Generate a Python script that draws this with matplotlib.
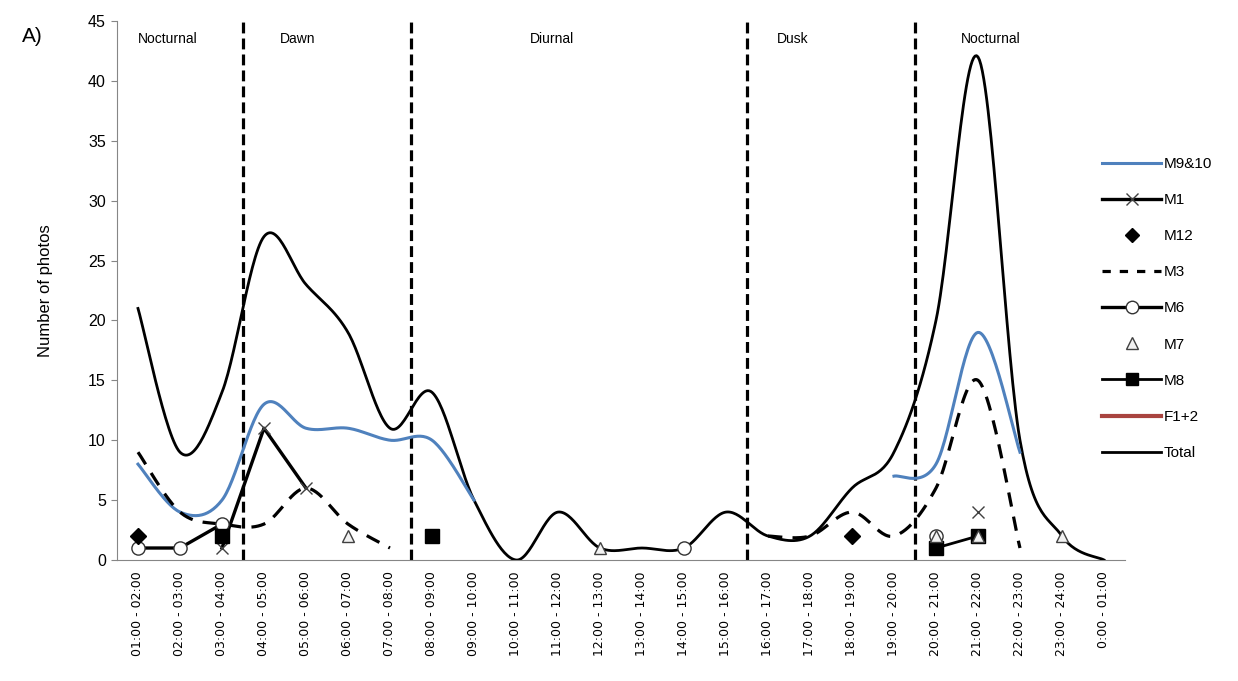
import numpy as np
import matplotlib.pyplot as plt
from matplotlib.lines import Line2D

nan = np.nan

hours = ['01:00 - 02:00', '02:00 - 03:00', '03:00 - 04:00', '04:00 - 05:00',
         '05:00 - 06:00', '06:00 - 07:00', '07:00 - 08:00', '08:00 - 09:00',
         '09:00 - 10:00', '10:00 - 11:00', '11:00 - 12:00', '12:00 - 13:00',
         '13:00 - 14:00', '14:00 - 15:00', '15:00 - 16:00', '16:00 - 17:00',
         '17:00 - 18:00', '18:00 - 19:00', '19:00 - 20:00', '20:00 - 21:00',
         '21:00 - 22:00', '22:00 - 23:00', '23:00 - 24:00', '0:00 - 01:00']

total = [21, 9, 14, 27, 23, 19, 11, 14, 5, 0, 4, 1, 1, 1, 4, 2, 2, 6, 9, 20, 42, 10, 2, 0]
m9_10 = [8, 4, 5, 13, 11, 11, 10, 10, 5, nan, nan, nan, nan, nan, nan, nan, nan, nan,
         7, 8, 19, 9, nan, nan]
m1 = [nan, nan, 1, 11, 6, nan, nan, nan, nan, nan, nan, nan, nan, nan, nan, nan, nan, nan,
      nan, nan, 4, nan, nan, nan]
m12 = [2, nan, nan, nan, nan, nan, nan, nan, nan, nan, nan, nan, nan, nan, nan, nan, nan, 2,
       nan, nan, nan, nan, nan, nan]
m3 = [9, 4, 3, 3, 6, 3, 1, nan, nan, nan, nan, nan, nan, nan, nan, 2, 2, 4, 2, 6, 15, 1, nan, nan]
m6 = [1, 1, 3, nan, nan, nan, nan, nan, nan, nan, nan, nan, nan, 1, nan, nan, nan, nan,
      nan, 2, nan, nan, nan, nan]
m7 = [nan, nan, nan, nan, nan, 2, nan, nan, nan, nan, nan, 1, nan, nan, nan, nan, nan, nan,
      nan, 2, 2, nan, 2, nan]
m8 = [nan, nan, 2, nan, nan, nan, nan, 2, nan, nan, nan, nan, nan, nan, nan, nan, nan, nan,
      nan, 1, 2, nan, nan, nan]
f1_2 = [nan] * 24

periods = ['Nocturnal', 'Dawn', 'Diurnal', 'Dusk', 'Nocturnal']
period_pos = [0.7, 3.8, 9.85, 15.6, 20.3]
boundaries = [2.5, 6.5, 14.5, 18.5]


def smooth(y, n=30):
    # excel-like smoothed line (catmull-rom bezier), split at gaps
    y = np.asarray(y, float)
    x = np.arange(len(y), dtype=float)
    idx = np.where(~np.isnan(y))[0]
    runs = np.split(idx, np.where(np.diff(idx) > 1)[0] + 1)
    xs, ys = [], []
    t = np.linspace(0, 1, n)[:, None]
    for r in runs:
        if len(r) < 2:
            continue
        p = np.c_[x[r], y[r]]
        p = np.vstack([p[0], p, p[-1]])
        for i in range(len(r) - 1):
            p0, p1, p2, p3 = p[i], p[i + 1], p[i + 2], p[i + 3]
            c1 = p1 + (p2 - p0) / 6
            c2 = p2 - (p3 - p1) / 6
            b = ((1 - t) ** 3) * p1 + 3 * ((1 - t) ** 2) * t * c1 + 3 * (1 - t) * t ** 2 * c2 + t ** 3 * p2
            xs.extend(b[:, 0])
            ys.extend(b[:, 1])
        xs.append(nan)
        ys.append(nan)
    return np.array(xs), np.array(ys)


plt.rcParams['font.family'] = ['Liberation Sans', 'DejaVu Sans']

fig = plt.figure(figsize=(12.38, 6.81), dpi=100)
ax = fig.add_axes([0.0945, 0.1777, 0.8142, 0.7915])
x = np.arange(len(hours))

for b in boundaries:
    ax.axvline(b, color='black', lw=2.3, dashes=(3.4, 1.6), zorder=2)

sx, sy = smooth(total)
ax.plot(sx, sy, color='black', lw=2.0, zorder=3)
sx, sy = smooth(m9_10)
ax.plot(sx, sy, color='#4F81BD', lw=2.2, zorder=3)
sx, sy = smooth(m3)
ax.plot(sx, sy, color='black', lw=2.3, dashes=(4.5, 3.2), zorder=3)

ax.plot(x, m1, color='black', lw=2.4, marker='x', ms=8, mec='#404040', mew=1.0, zorder=4)
ax.plot(x, m6, color='black', lw=2.4, marker='o', ms=9.5, mfc='white', mec='#333333', mew=1.0, zorder=5)
ax.plot(x, m8, color='black', lw=2.0, marker='s', ms=9.5, mfc='black', mec='black', zorder=5)
ax.plot(x, m12, ls='none', marker='D', ms=8, mfc='black', mec='black', zorder=5)
ax.plot(x, m7, ls='none', marker='^', ms=9, mfc='#f2f2f2', mec='#404040', mew=1.0, zorder=6)

for lab, px in zip(periods, period_pos):
    ax.text(px, 43.5, lab, ha='center', va='center', fontsize=10)

ax.set_xlim(-0.5, 23.5)
ax.set_ylim(0, 45)
ax.set_yticks(range(0, 46, 5))
ax.set_xticks(x)
ax.set_xticklabels(hours, rotation=90, fontsize=9, family='DejaVu Sans')
ax.tick_params(axis='x', length=0, pad=8)
ax.tick_params(axis='y', length=4, color='#868686', labelsize=11.5, pad=4)
for s in ['top', 'right']:
    ax.spines[s].set_visible(False)
for s in ['left', 'bottom']:
    ax.spines[s].set_color('#868686')
ax.set_ylabel('Number of photos', fontsize=12, labelpad=25)

fig.text(0.018, 0.947, 'A)', fontsize=15, va='center')

handles = [
    Line2D([], [], color='#4F81BD', lw=2.2),
    Line2D([], [], color='black', lw=2.4, marker='x', ms=8, mec='#404040', mew=1.0),
    Line2D([], [], ls='none', marker='D', ms=7, mfc='black', mec='black'),
    Line2D([], [], color='black', lw=2.3, dashes=(2.6, 2.8)),
    Line2D([], [], color='black', lw=2.4, marker='o', ms=9, mfc='white', mec='#333333', mew=1.0),
    Line2D([], [], ls='none', marker='^', ms=8, mfc='#f2f2f2', mec='#404040', mew=1.0),
    Line2D([], [], color='black', lw=2.0, marker='s', ms=9, mfc='black'),
    Line2D([], [], color='#A9443F', lw=3.0),
    Line2D([], [], color='black', lw=2.0),
]
labels = ['M9&10', 'M1', 'M12', 'M3', 'M6', 'M7', 'M8', 'F1+2', 'Total']
fig.legend(handles, labels, loc='center left', bbox_to_anchor=(0.890, 0.547),
           frameon=False, fontsize=11, handlelength=3.9, handletextpad=0.15,
           labelspacing=1.45, borderpad=0, borderaxespad=0)

fig.savefig('out.png', dpi=100)
